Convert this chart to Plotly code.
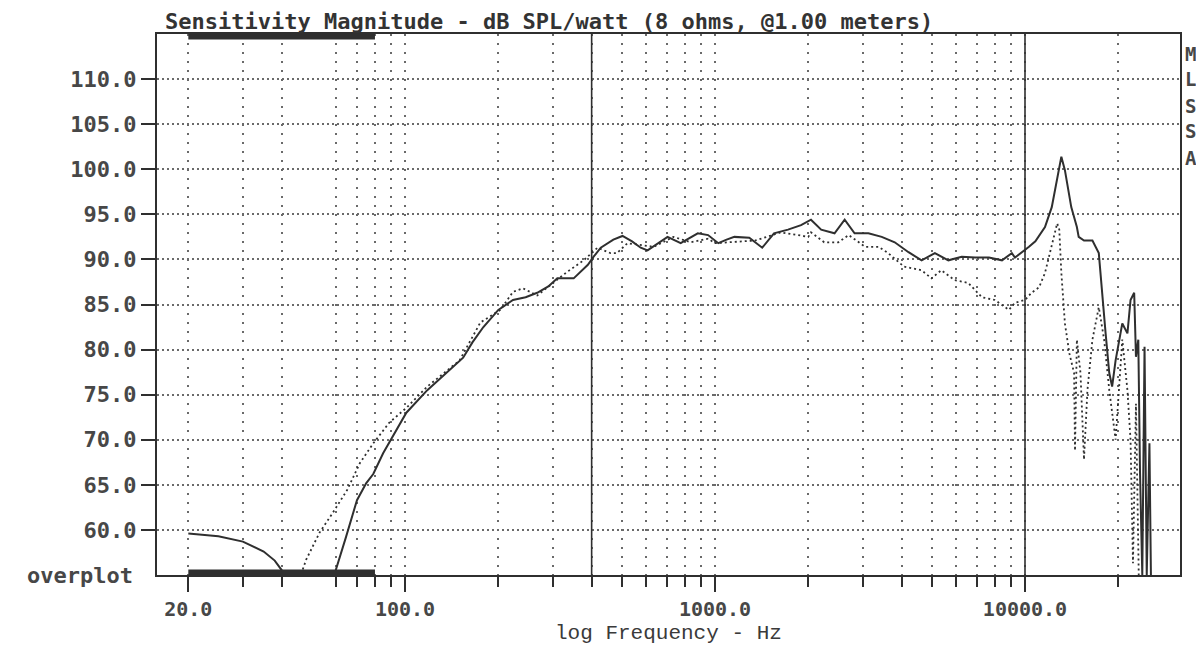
import plotly.graph_objects as go

# ---------------- data ----------------
freq_main = [20, 25, 30, 35, 38, 40.5, 42, 50, 57, 59.5, 64.5, 70, 75, 79, 85, 91, 101, 118,
             148, 154, 165, 179, 200, 223, 245, 267, 290, 310, 350, 389, 406, 428, 470, 503,
             540, 576, 606, 650, 703, 775, 830, 880, 950, 1025, 1090, 1155, 1290, 1420, 1550,
             1720, 1895, 2040, 2200, 2430, 2620, 2820, 3125, 3450, 3800, 4210, 4640, 5120,
             5660, 6250, 6900, 7650, 8430, 9070, 9280, 10000, 10300, 10800, 11600, 12200,
             12700, 13100, 13450, 14100, 14700, 14900, 15500, 16500, 17300, 17800, 18200,
             18700, 19100, 19600, 20600, 21400, 21900, 22500, 22800, 23200, 23500, 23900,
             24300, 24700, 25200, 25500]
spl_main = [59.6, 59.3, 58.7, 57.6, 56.6, 55.3, 53.5, 50.0, 52.5, 55.3, 59.2, 63.3, 65.2, 66.2,
            68.5, 70.3, 73.0, 75.5, 78.5, 79.1, 80.8, 82.5, 84.4, 85.5, 85.8, 86.3, 87.0, 87.9,
            87.9, 89.4, 90.3, 91.3, 92.2, 92.6, 92.0, 91.3, 91.0, 91.7, 92.5, 91.8, 92.4, 92.9,
            92.7, 91.8, 92.2, 92.5, 92.4, 91.3, 92.9, 93.3, 93.8, 94.4, 93.3, 92.9, 94.4, 92.9,
            92.9, 92.5, 91.9, 90.8, 89.9, 90.7, 89.9, 90.3, 90.2, 90.2, 89.9, 90.7, 90.2, 91.0,
            91.4, 92.0, 93.6, 95.8, 99.1, 101.4, 99.9, 95.8, 93.6, 92.5, 92.1, 92.1, 90.7, 85.2,
            81.8, 77.4, 75.9, 78.8, 82.9, 81.8, 85.5, 86.3, 79.2, 81.1, 66.3, 55.0, 80.3, 55.0,
            69.6, 54.0]

freq_over = [44, 46.4, 48, 53, 58.5, 65, 71.5, 79, 89, 101.5, 118, 137, 150, 175, 203, 223,
             240, 267, 295, 333, 377, 418, 460, 483, 522, 580, 634, 735, 836, 950, 1000, 1350,
             1630, 1850, 2000, 2040, 2250, 2500, 2700, 3050, 3370, 3620, 4070, 4640, 4990,
             5370, 5930, 6560, 7260, 8000, 8870, 9280, 10000, 10500, 11100, 11600, 12200,
             12700, 12900, 13100, 13450, 13900, 14400, 14500, 14700, 15100, 15500, 15900,
             16500, 17300, 18000, 18700, 19600, 20600, 21400, 21900, 22300, 22800, 23300]
spl_over = [53.0, 55.4, 56.7, 59.7, 61.9, 64.4, 67.4, 69.6, 71.9, 73.6, 75.9, 77.7, 78.8, 83.0,
            84.4, 86.4, 86.8, 86.0, 87.2, 88.6, 89.9, 91.3, 90.7, 90.7, 91.8, 91.6, 91.4, 92.5,
            91.9, 92.3, 91.8, 92.1, 93.0, 92.7, 92.5, 93.0, 91.9, 91.9, 92.7, 91.4, 91.4, 90.7,
            89.2, 88.8, 87.9, 88.8, 87.7, 87.4, 85.8, 85.5, 84.4, 85.2, 85.5, 86.3, 86.9, 88.5,
            91.4, 94.0, 93.3, 88.5, 82.9, 79.6, 77.4, 68.8, 81.1, 77.4, 67.8, 75.5, 81.1, 84.7,
            81.1, 75.5, 70.0, 81.1, 75.5, 70.0, 56.3, 74.0, 54.0]

y_tick_vals = [60, 65, 70, 75, 80, 85, 90, 95, 100, 105, 110]
y_tick_text = ["60.0", "65.0", "70.0", "75.0", "80.0", "85.0", "90.0", "95.0",
               "100.0", "105.0", "110.0"]
x_major_vals = [20, 100, 1000, 10000]
x_major_text = ["20.0", "100.0", "1000.0", "10000.0"]
x_minor_vals = [30, 40, 60, 70, 80, 90, 200, 300, 400, 500, 600, 700, 800, 900,
                2000, 3000, 4000, 5000, 6000, 7000, 8000, 9000, 20000]
cursor_freqs = [400, 10000]
overplot_band = [20, 80]
side_letters = ["M", "L", "S", "S", "A"]
y_range = [55, 115]
x_range_log = [1.2, 4.5]

title_text = "Sensitivity Magnitude - dB SPL/watt (8 ohms, @1.00 meters)"
x_title = "log Frequency - Hz"
overplot_label = "overplot"

# ---------------- styles ----------------
INK = "#2f2f2f"
GRID = "#6a6a6a"
TXT = "#474747"
MONO = "DejaVu Sans Mono"

# the page body has an 8px default margin, so the figure is drawn 8px in
FIG_W, FIG_H = 1188, 636
PLOT_H = 541

fig = go.Figure()

# cursor lines
for f in cursor_freqs:
    fig.add_trace(go.Scatter(x=[f, f], y=y_range, mode="lines",
                             line=dict(color=INK, width=1.6), hoverinfo="skip"))

fig.add_trace(go.Scatter(x=freq_over, y=spl_over, mode="lines",
                         line=dict(color=INK, width=1.8, dash="2px,3px"),
                         name="overplot"))
fig.add_trace(go.Scatter(x=freq_main, y=spl_main, mode="lines",
                         line=dict(color=INK, width=2.0), name="sensitivity"))

# overplot band bars along top and bottom frame
shapes = []
for (y0, y1) in [(0.0, 0.010), (0.990, 1.0)]:
    shapes.append(dict(type="rect", xref="x", yref="paper",
                       x0=overplot_band[0], x1=overplot_band[1], y0=y0, y1=y1,
                       fillcolor=INK, line=dict(width=0), layer="above"))

annotations = []
letter_y = [54, 79, 106, 131, 158]
for letter, yp in zip(side_letters, letter_y):
    annotations.append(dict(text=letter, xref="paper", yref="paper",
                            x=1, xanchor="left", xshift=3,
                            y=(575 - yp) / PLOT_H, yanchor="middle", showarrow=False,
                            font=dict(family=MONO, size=19, color=TXT, weight="bold")))
annotations.append(dict(text=overplot_label, xref="paper", yref="y",
                        x=0, xanchor="right", xshift=-22, y=y_range[0], yanchor="middle",
                        showarrow=False,
                        font=dict(family=MONO, size=22, color=TXT, weight="bold")))
# x axis title, placed under the tick labels
annotations.append(dict(text=x_title, xref="paper", yref="paper",
                        x=0.5, xanchor="center", y=-58 / PLOT_H, yanchor="middle",
                        showarrow=False,
                        font=dict(family="Liberation Mono", size=21, color="#3a3a3a")))

fig.update_layout(
    width=FIG_W, height=FIG_H,
    margin=dict(l=149, r=16, t=26, b=69, autoexpand=False),
    paper_bgcolor="white", plot_bgcolor="white",
    showlegend=False,
    shapes=shapes, annotations=annotations,
    title=dict(text=title_text, xref="container", yref="container",
               x=157 / FIG_W, xanchor="left", y=1 - 13.5 / FIG_H, yanchor="middle",
               font=dict(family=MONO, size=22, color="#333333", weight="bold")),
    xaxis=dict(
        type="log", range=x_range_log, automargin=False,
        tickmode="array", tickvals=x_major_vals, ticktext=x_major_text,
        ticks="outside", ticklen=15, tickwidth=2, tickcolor=INK,
        showline=True, linecolor=INK, linewidth=2, mirror=True,
        showgrid=True, gridcolor=GRID, gridwidth=1.5, griddash="2px,7px",
        zeroline=False,
        minor=dict(tickmode="array", tickvals=x_minor_vals, ticks="outside",
                   ticklen=10, tickwidth=2, tickcolor=INK,
                   showgrid=True, gridcolor=GRID, gridwidth=1.5, griddash="2px,7px"),
        tickfont=dict(family=MONO, size=20, color=TXT, weight="bold"),
    ),
    yaxis=dict(
        range=y_range, automargin=False,
        tickmode="array", tickvals=y_tick_vals, ticktext=y_tick_text,
        ticks="outside", ticklen=14, tickwidth=2, tickcolor=INK,
        showline=True, linecolor=INK, linewidth=2, mirror=True,
        showgrid=True, gridcolor=GRID, gridwidth=1.5, griddash="2px,3px",
        zeroline=False,
        tickfont=dict(family=MONO, size=22, color=TXT, weight="bold"),
    ),
)

fig.write_html("out.html")
